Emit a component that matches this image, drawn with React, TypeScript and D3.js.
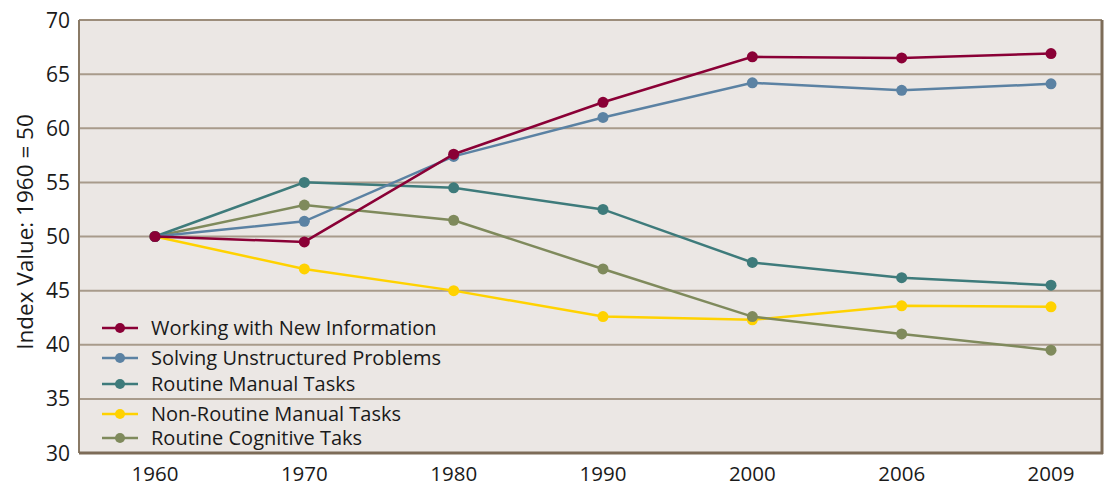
import React from "react";
import * as d3 from "d3";

const years = ["1960", "1970", "1980", "1990", "2000", "2006", "2009"];
const workingNewInfo = [50, 49.5, 57.6, 62.4, 66.6, 66.5, 66.9];
const solvingProblems = [50, 51.4, 57.4, 61.0, 64.2, 63.5, 64.1];
const routineManual = [50, 55.0, 54.5, 52.5, 47.6, 46.2, 45.5];
const nonRoutineManual = [50, 47.0, 45.0, 42.6, 42.3, 43.6, 43.5];
const routineCognitive = [50, 52.9, 51.5, 47.0, 42.6, 41.0, 39.5];
const yTicks = [30, 35, 40, 45, 50, 55, 60, 65, 70];

const seriesNames = [
  "Working with New Information",
  "Solving Unstructured Problems",
  "Routine Manual Tasks",
  "Non-Routine Manual Tasks",
  "Routine Cognitive Taks",
];
const seriesValues = [workingNewInfo, solvingProblems, routineManual, nonRoutineManual, routineCognitive];
const colors = ["#8a0036", "#5b82a3", "#3e7b7b", "#ffd200", "#7f8a5c"];
// draw order: bottom to top
const drawOrder = [3, 4, 2, 1, 0];

const W = 1109, H = 487;
const L = 79, R = 1102, T = 20, B = 453;
const FONT = "'Open Sans', Lato, sans-serif";

export default function App() {
  const x = d3.scalePoint<string>().domain(years).range([155, 1051]);
  const y = d3.scaleLinear().domain([30, 70]).range([B, T]);
  const line = d3.line<number>().x((_, i) => x(years[i]) as number).y((d) => y(d));
  const legendY = [328, 358, 384, 414, 438];

  return (
    <svg width={W} height={H} style={{ position: "absolute", left: 0, top: 0, background: "#fff" }}>
      <rect x={L} y={T} width={R - L} height={B - T} fill="#ebe7e4" />
      {yTicks.filter((t) => t > 30 && t < 70).map((t) => (
        <line key={t} x1={L} x2={R} y1={y(t)} y2={y(t)} stroke="#a89b8b" strokeWidth={2} />
      ))}
      {/* frame */}
      <line x1={L} x2={R} y1={T} y2={T} stroke="#9c8d7b" strokeWidth={2} />
      <line x1={L} x2={L} y1={T} y2={B} stroke="#8a7a66" strokeWidth={2} />
      <line x1={R} x2={R} y1={T} y2={B + 1} stroke="#7d6c58" strokeWidth={3} />
      <line x1={L} x2={R + 1} y1={B} y2={B} stroke="#7d6c58" strokeWidth={3} />
      {yTicks.map((t) => (
        <text key={t} x={70} y={y(t)} dy="0.36em" textAnchor="end" fontFamily={FONT} fontSize={21} fill="#1a1a1a">
          {t}
        </text>
      ))}
      {years.map((yr) => (
        <text key={yr} x={x(yr)} y={481} textAnchor="middle" fontFamily={FONT} fontSize={20.5} fill="#1a1a1a">
          {yr}
        </text>
      ))}
      <text
        transform={`translate(25, 232) rotate(-90)`}
        textAnchor="middle"
        dy="0.36em"
        fontFamily={FONT}
        fontSize={22.5}
        fill="#1a1a1a"
      >
        Index Value: 1960 = 50
      </text>
      {drawOrder.map((si) => (
        <g key={si}>
          <path d={line(seriesValues[si]) || ""} fill="none" stroke={colors[si]} strokeWidth={2.5} />
          {seriesValues[si].map((v, i) => (
            <circle key={i} cx={x(years[i])} cy={y(v)} r={5.5} fill={colors[si]} />
          ))}
        </g>
      ))}
      {seriesNames.map((n, i) => (
        <g key={n}>
          <line x1={102} x2={138} y1={legendY[i]} y2={legendY[i]} stroke={colors[i]} strokeWidth={2.5} />
          <circle cx={120} cy={legendY[i]} r={5} fill={colors[i]} />
          <text x={151} y={legendY[i]} dy="0.36em" fontFamily={FONT} fontSize={20} fill="#1a1a1a">
            {n}
          </text>
        </g>
      ))}
    </svg>
  );
}
